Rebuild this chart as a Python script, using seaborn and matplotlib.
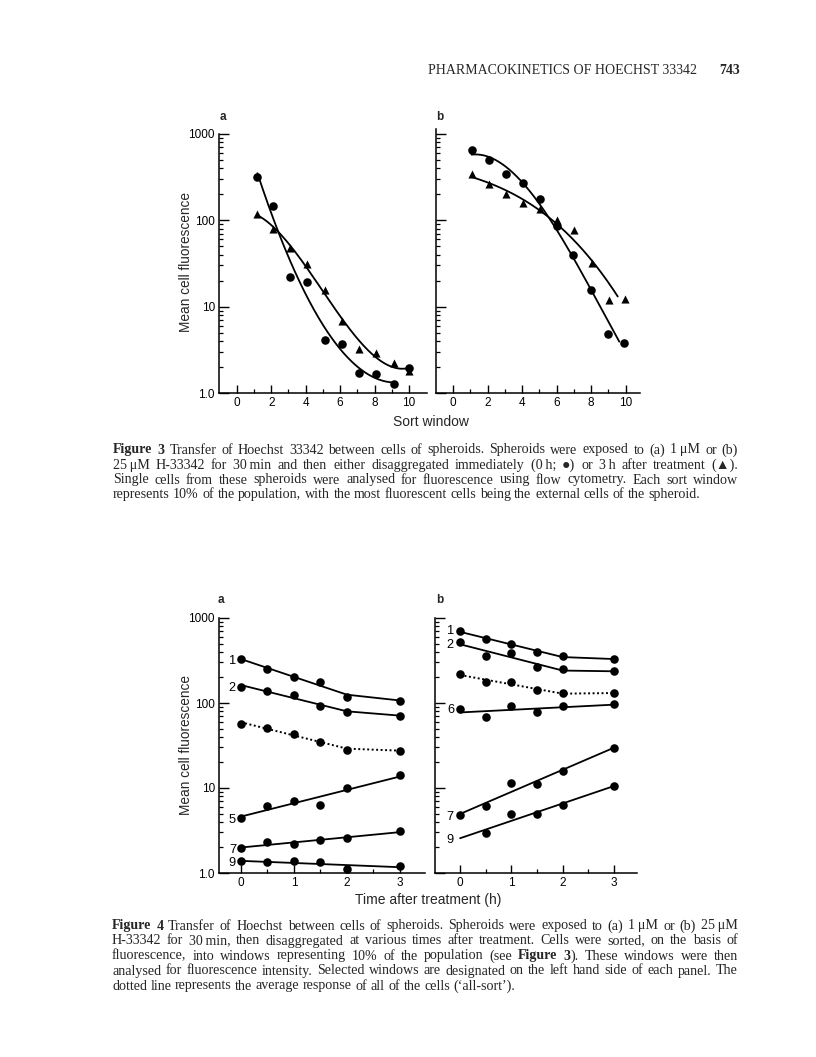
import numpy as np
import matplotlib
matplotlib.use("Agg")
import matplotlib.pyplot as plt
import seaborn as sns
import pandas as pd
from matplotlib.ticker import FixedLocator, NullFormatter, LogLocator

# ---------------- data ----------------
# Figure 3 (a) 1 uM
sw_a_circ = [1.2, 2.1, 3.1, 4.1, 5.1, 6.1, 7.1, 8.1, 9.1, 10.0]
fl_a_circ = [316, 148, 22, 19.3, 4.1, 3.7, 1.7, 1.67, 1.26, 1.96]
sw_a_tri = [1.2, 2.1, 3.1, 4.1, 5.1, 6.1, 7.1, 8.1, 9.1, 10.0]
fl_a_tri = [119, 79, 48, 31.5, 15.5, 6.8, 3.2, 2.9, 2.25, 1.8]
# Figure 3 (b) 25 uM
sw_b_circ = [1.06, 2.07, 3.06, 4.06, 5.05, 6.0, 6.96, 7.97, 8.95, 9.92]
fl_b_circ = [646, 495, 344, 268, 175, 86, 40, 15.5, 4.87, 3.83]
sw_b_tri = [1.1, 2.07, 3.08, 4.06, 5.05, 6.0, 6.98, 8.07, 9.01, 9.98]
fl_b_tri = [341, 261, 200, 159, 134, 101, 76.6, 32.3, 11.8, 12.3]
# fitted-curve ranges (sort window)
fit_range_a_circ = (1.2, 9.1)
fit_range_a_tri = (1.2, 10.0)
fit_range_b_circ = (1.06, 9.63)
fit_range_b_tri = (1.1, 9.54)

# Figure 4 (a)
time_a = [0, 0.5, 1, 1.5, 2, 3]
win1_a = [329, 251, 202, 177, 117, 107]
win2_a = [156, 138, 123, 93, 78, 71]
allsort_a = [57, 51, 43.6, 34.5, 28.3, 27.5]
win5_a = [4.4, 6.2, 7.1, 6.3, 10, 14.2]
win7_a = [1.95, 2.3, 2.2, 2.45, 2.55, 3.1]
win9_a = [1.37, 1.35, 1.38, 1.33, 1.1, 1.22]
# Figure 4 (b)
time_b = [0, 0.5, 1, 1.5, 2, 3]
win1_b = [697, 566, 499, 398, 354, 329]
win2_b = [522, 360, 387, 263, 251, 236]
allsort_b = [221, 175, 175, 141, 131, 131]
win6_b = [86, 68, 92, 78, 93, 97]
win7_b = [4.77, 6.1, 11.5, 11.2, 16, 29.5]
time_b9 = [0.5, 1, 1.5, 2, 3]
win9_b = [2.95, 4.94, 4.94, 6.25, 10.7]

y_ticks = [1, 10, 100, 1000]
y_ticklabels = ["1.0", "10", "100", "1000"]

header = "PHARMACOKINETICS OF HOECHST 33342"
page_no = "743"

cap3 = [
    "*Figure* *3*  Transfer of Hoechst 33342 between cells of spheroids. Spheroids were exposed to (a) 1\u2009\u03bcM or (b)",
    "25\u2009\u03bcM H-33342 for 30\u2009min and then either disaggregated immediately (0\u2009h; \u25cf) or 3\u2009h after treatment (\u25b2).",
    "Single cells from these spheroids were analysed for fluorescence using flow cytometry. Each sort window",
    "represents 10% of the population, with the most fluorescent cells being the external cells of the spheroid.",
]
cap4 = [
    "*Figure* *4*  Transfer of Hoechst between cells of spheroids. Spheroids were exposed to (a) 1\u2009\u03bcM or (b) 25\u2009\u03bcM",
    "H-33342 for 30\u2009min, then disaggregated at various times after treatment. Cells were sorted, on the basis of",
    "fluorescence, into windows representing 10% of the population (see *Figure* *3*). These windows were then",
    "analysed for fluorescence intensity. Selected windows are designated on the left hand side of each panel. The",
    "dotted line represents the average response of all of the cells (\u2018all-sort\u2019).",
]

# ---------------- style ----------------
sns.set_theme(style="ticks")
plt.rcParams["font.family"] = ["Liberation Sans", "DejaVu Sans"]
plt.rcParams["axes.linewidth"] = 1.0
W, H = 816, 1057
fig = plt.figure(figsize=(W / 100, H / 100), dpi=100)
fig.patch.set_facecolor("white")

SERIF = ["Liberation Serif", "DejaVu Serif", "DejaVu Sans"]


def add_ax(l, r, t, b):
    return fig.add_axes([l / W, 1 - b / H, (r - l) / W, (b - t) / H])


def style_ax(ax, xlim, ylim, xmaj, xmin, show_ylabels):
    ax.set_yscale("log")
    ax.set_xlim(*xlim)
    ax.set_ylim(*ylim)
    for s in ("top", "right"):
        ax.spines[s].set_visible(False)
    for s in ("left", "bottom"):
        ax.spines[s].set_color("black")
        ax.spines[s].set_linewidth(1.1)
    ax.set_facecolor("white")
    ax.xaxis.set_major_locator(FixedLocator(xmaj))
    ax.xaxis.set_minor_locator(FixedLocator(xmin))
    ax.set_xticklabels([("%g" % v) for v in xmaj])
    ax.yaxis.set_major_locator(FixedLocator(y_ticks))
    ax.yaxis.set_minor_locator(LogLocator(base=10, subs=np.arange(2, 10)))
    ax.yaxis.set_minor_formatter(NullFormatter())
    if show_ylabels:
        ax.set_yticklabels(y_ticklabels)
    else:
        ax.set_yticklabels([])
    ax.tick_params(axis="both", which="major", direction="in", length=6, width=1.0,
                   colors="black", labelsize=8.5, pad=3)
    ax.tick_params(axis="both", which="minor", direction="in", length=3, width=0.9, colors="black")
    ax.tick_params(axis="y", which="major", length=7)
    ax.set_xlabel("")
    ax.set_ylabel("")
    ax.grid(False)


def logfit_curve(x, y, deg, rng, n=None):
    x = np.asarray(x, float)
    y = np.asarray(y, float)
    if n is not None:
        x, y = x[:n], y[:n]
    c = np.polyfit(x, np.log10(y), deg)
    xs = np.linspace(rng[0], rng[1], 200)
    return pd.DataFrame({"x": xs, "y": 10 ** np.polyval(c, xs)})


def lin_fit(t, y, t0, t1):
    c = np.polyfit(np.asarray(t, float), np.log10(y), 1)
    return 10 ** np.polyval(c, t0), 10 ** np.polyval(c, t1)


def bent_line(t, y):
    t = np.asarray(t, float)
    y = np.asarray(y, float)
    m = t <= 2
    f0, f2 = lin_fit(t[m], y[m], 0, 2)
    return pd.DataFrame({"x": [0, 2, 3], "y": [f0, f2, y[-1]]})


def straight_line(t, y, t0, t1):
    f0, f1 = lin_fit(t, y, t0, t1)
    return pd.DataFrame({"x": [t0, t1], "y": [f0, f1]})


LW = 1.3
MS_C = 38
MS_T = 34

# ---------------- Figure 3 ----------------
ax3a = add_ax(219, 427, 134, 393)
ax3b = add_ax(436, 640, 129, 393)

for ax, xs_c, ys_c, xs_t, ys_t, rc, rt, nc, nt, deg_c, deg_t in [
    (ax3a, sw_a_circ, fl_a_circ, sw_a_tri, fl_a_tri, fit_range_a_circ, fit_range_a_tri, 9, 10, 3, 3),
    (ax3b, sw_b_circ, fl_b_circ, sw_b_tri, fl_b_tri, fit_range_b_circ, fit_range_b_tri, 10, 10, 3, 3),
]:
    dc = logfit_curve(xs_c, ys_c, deg_c, rc, nc)
    dt = logfit_curve(xs_t, ys_t, deg_t, rt, nt)
    sns.lineplot(data=dc, x="x", y="y", ax=ax, color="black", lw=LW, estimator=None, sort=False)
    sns.lineplot(data=dt, x="x", y="y", ax=ax, color="black", lw=LW, estimator=None, sort=False)
    sns.scatterplot(x=xs_c, y=ys_c, ax=ax, color="black", marker="o", s=MS_C, linewidth=0, zorder=3)
    sns.scatterplot(x=xs_t, y=ys_t, ax=ax, color="black", marker="^", s=MS_T, linewidth=0, zorder=3)

style_ax(ax3a, (-1.03, 11.04), (1, 1000), [0, 2, 4, 6, 8, 10], [1, 3, 5, 7, 9], True)
style_ax(ax3b, (-1.0, 10.83), (1, 10 ** (3 + 5 / 86.3)), [0, 2, 4, 6, 8, 10], [1, 3, 5, 7, 9], False)

# ---------------- Figure 4 ----------------
ax4a = add_ax(219, 425, 618, 873)
ax4b = add_ax(435, 637, 618, 873)

lbl_kw = dict(ha="right", va="center_baseline", fontsize=9.2, color="black")

for t, y in [(time_a, win1_a), (time_a, win2_a)]:
    sns.lineplot(data=bent_line(t, y), x="x", y="y", ax=ax4a, color="black", lw=LW, estimator=None)
sns.lineplot(data=bent_line(time_a, allsort_a), x="x", y="y", ax=ax4a, color="black", lw=1.4,
             linestyle=(0, (1, 1.3)), estimator=None)
for y in [win5_a, win7_a, win9_a]:
    sns.lineplot(data=straight_line(time_a, y, 0, 3), x="x", y="y", ax=ax4a, color="black", lw=LW, estimator=None)
for y in [win1_a, win2_a, allsort_a, win5_a, win7_a, win9_a]:
    sns.scatterplot(x=time_a, y=y, ax=ax4a, color="black", marker="o", s=MS_C, linewidth=0, zorder=3)
for name, y in [("1", win1_a), ("2", win2_a), ("5", win5_a), ("7", win7_a), ("9", win9_a)]:
    ax4a.text(-0.09, y[0], name, **lbl_kw)

for t, y in [(time_b, win1_b), (time_b, win2_b)]:
    sns.lineplot(data=bent_line(t, y), x="x", y="y", ax=ax4b, color="black", lw=LW, estimator=None)
sns.lineplot(data=bent_line(time_b, allsort_b), x="x", y="y", ax=ax4b, color="black", lw=1.4,
             linestyle=(0, (1, 1.3)), estimator=None)
for t, y in [(time_b, win6_b), (time_b, win7_b), (time_b9, win9_b)]:
    sns.lineplot(data=straight_line(t, y, 0, 3), x="x", y="y", ax=ax4b, color="black", lw=LW, estimator=None)
for t, y in [(time_b, win1_b), (time_b, win2_b), (time_b, allsort_b), (time_b, win6_b),
             (time_b, win7_b), (time_b9, win9_b)]:
    sns.scatterplot(x=t, y=y, ax=ax4b, color="black", marker="o", s=MS_C, linewidth=0, zorder=3)
nine_start = straight_line(time_b9, win9_b, 0, 3)["y"].iloc[0]
for name, yv in [("1", win1_b[0] * 1.04), ("2", win2_b[0] * 0.96), ("6", win6_b[0]), ("7", win7_b[0]),
                 ("9", nine_start)]:
    ax4b.text(-0.12, yv, name, **lbl_kw)

style_ax(ax4a, (-0.41, 3.47), (1, 1000), [0, 1, 2, 3], [0.5, 1.5, 2.5], True)
style_ax(ax4b, (-0.49, 3.45), (1, 1000), [0, 1, 2, 3], [0.5, 1.5, 2.5], False)

# ---------------- texts ----------------
def ftxt(x, y, s, **kw):
    return fig.text(x / W, 1 - y / H, s, **kw)

ftxt(697, 74, header, ha="right", va="baseline", fontsize=10, family=SERIF)
ftxt(740, 74, page_no, ha="right", va="baseline", fontsize=10, family=SERIF, weight="bold")

ftxt(223, 117, "a", ha="center", va="center", fontsize=8.5, weight="bold")
ftxt(440, 117, "b", ha="center", va="center", fontsize=8.5, weight="bold")
ftxt(221, 600, "a", ha="center", va="center", fontsize=8.5, weight="bold")
ftxt(440, 600, "b", ha="center", va="center", fontsize=8.5, weight="bold")

ftxt(186, 262, "Mean cell fluorescence", ha="center", va="center", rotation=90, fontsize=9.8)
ftxt(186, 745, "Mean cell fluorescence", ha="center", va="center", rotation=90, fontsize=9.8)
ftxt(431, 422, "Sort window", ha="center", va="center", fontsize=10)
ftxt(428, 900, "Time after treatment (h)", ha="center", va="center", fontsize=10)

renderer = fig.canvas.get_renderer()


def measure(s, bold, size):
    t = fig.text(0, 0, s, fontsize=size, family=SERIF, weight="bold" if bold else "normal")
    w = t.get_window_extent(renderer).width
    t.remove()
    return w


def justified(lines, x0, x1, ys, size, justify_last=False):
    space = measure("a b", False, size) - measure("ab", False, size)
    for i, (line, yc) in enumerate(zip(lines, ys)):
        words = [w for w in line.split(" ") if w != ""]
        segs_all, widths = [], []
        for w in words:
            parts = w.split("*")
            segs = [(p, k % 2 == 1) for k, p in enumerate(parts) if p]
            ws = [measure(p, b, size) for p, b in segs]
            segs_all.append(list(zip(segs, ws)))
            widths.append(sum(ws))
        last = i == len(lines) - 1
        if last and not justify_last:
            gap = space
        else:
            gap = (x1 - x0 - sum(widths)) / max(len(words) - 1, 1)
        x = x0
        for segs in segs_all:
            for (p, b), w in segs:
                ftxt(x, yc + 3.5, p, ha="left", va="baseline", fontsize=size, family=SERIF,
                     weight="bold" if b else "normal")
                x += w
            x += gap


justified(cap3, 113, 738, [450, 465, 480, 495], 10.1)
justified(cap4, 112, 738, [926, 941, 956, 971, 986], 10.1)

fig.savefig("out.png", dpi=100, facecolor="white")
